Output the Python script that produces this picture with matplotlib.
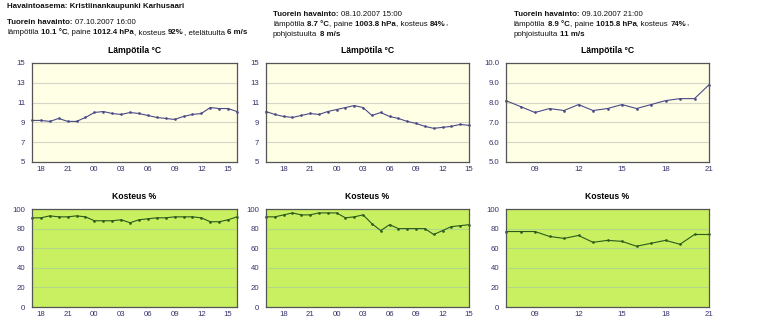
import matplotlib
matplotlib.use('Agg')
import matplotlib.pyplot as plt
from matplotlib.transforms import IdentityTransform

plt.rcParams['font.family'] = ['Liberation Sans', 'DejaVu Sans']

W, H = 780, 331

# tuntisarjat (kellonaika) ja mittaukset
hours1 = [17, 18, 19, 20, 21, 22, 23, 0, 1, 2, 3, 4, 5, 6, 7, 8, 9, 10, 11, 12, 13, 14, 15, 16]
temp1 = [9.2, 9.2, 9.1, 9.4, 9.1, 9.1, 9.5, 10.0, 10.1, 9.9, 9.8, 10.0, 9.9, 9.7, 9.5, 9.4,
         9.3, 9.6, 9.8, 9.9, 10.5, 10.4, 10.4, 10.1]
hum1 = [91, 91, 93, 92, 92, 93, 92, 88, 88, 88, 89, 86, 89, 90, 91, 91,
        92, 92, 92, 91, 87, 87, 89, 92]

hours2 = [16, 17, 18, 19, 20, 21, 22, 23, 0, 1, 2, 3, 4, 5, 6, 7, 8, 9, 10, 11, 12, 13, 14, 15]
temp2 = [10.1, 9.8, 9.6, 9.5, 9.7, 9.9, 9.8, 10.1, 10.3, 10.5, 10.7, 10.5, 9.7, 10.0, 9.6, 9.4,
         9.1, 8.9, 8.6, 8.4, 8.5, 8.6, 8.8, 8.7]
hum2 = [92, 92, 94, 96, 94, 94, 96, 96, 96, 91, 92, 94, 85, 78, 84, 80,
        80, 80, 80, 74, 78, 82, 83, 84]

hours3 = [7, 8, 9, 10, 11, 12, 13, 14, 15, 16, 17, 18, 19, 20, 21]
temp3 = [8.1, 7.8, 7.5, 7.7, 7.6, 7.9, 7.6, 7.7, 7.9, 7.7, 7.9, 8.1, 8.2, 8.2, 8.9]
hum3 = [77, 77, 77, 72, 70, 73, 66, 68, 67, 62, 65, 68, 64, 74, 74]

temp_ylims = [(5, 15), (5, 15), (5.0, 10.0)]
temp_yticks = [[5, 7, 9, 11, 13, 15], [5, 7, 9, 11, 13, 15], [5.0, 6.0, 7.0, 8.0, 9.0, 10.0]]
temp_fmt = ['{:.0f}', '{:.0f}', '{:.1f}']

header1 = 'Havaintoasema: Kristiinankaupunki Karhusaari'
obs = [
    ('07.10.2007 16:00', '10.1 °C', '1012.4 hPa', '92%', 'etelätuulta', '6 m/s'),
    ('08.10.2007 15:00', '8.7 °C', '1003.8 hPa', '84%', 'pohjoistuulta', '8 m/s'),
    ('09.10.2007 21:00', '8.9 °C', '1015.8 hPa', '74%', 'pohjoistuulta', '11 m/s'),
]

TEMP_BG = '#ffffe6'
HUM_BG = '#c8f060'
TEMP_LINE = '#4a4a88'
HUM_LINE = '#2c5a1c'
TICK_COLOR = '#33336b'
FS = 5.7

fig = plt.figure(figsize=(W / 100, H / 100), dpi=100)
renderer = fig.canvas.get_renderer()


def px_axes(x0, y0, x1, y1):
    return fig.add_axes([x0 / W, 1 - y1 / H, (x1 - x0) / W, (y1 - y0) / H])


def text_width(s, size, bold=False):
    t = fig.text(0, 0, s, fontsize=size, fontweight='bold' if bold else 'normal')
    w = t.get_window_extent(renderer).width
    t.remove()
    return w


def rich_line(x, y, parts, size=FS):
    """Kirjoittaa rivin, jossa osa paloista on lihavoitu (pikselikoordinaatit ylhäältä)."""
    space = text_width('x x', size) - text_width('xx', size)
    cx = x
    for s, bold, gap in parts:
        fig.text(cx, H - y, s, transform=IdentityTransform(), fontsize=size,
                 fontweight='bold' if bold else 'normal', va='center', ha='left',
                 color='#111111')
        # leveys ilman reunustusta: mitataan kahden merkkijonon erotuksena
        w = text_width('x' + s + 'x', size, bold) - text_width('xx', size, bold)
        cx += w + (space if gap else 0)


def style_axes(ax, bg, grid_color):
    ax.set_facecolor(bg)
    for sp in ax.spines.values():
        sp.set_color('#555555')
        sp.set_linewidth(0.9)
    ax.grid(axis='y', color=grid_color, linewidth=0.8)
    ax.set_axisbelow(True)
    ax.tick_params(length=0, labelsize=5.6, labelcolor=TICK_COLOR, pad=5)
    ax.tick_params(axis='x', pad=3)


def hour_ticks(ax, hours):
    idx = [i for i, h in enumerate(hours) if h % 3 == 0]
    ax.set_xticks(idx)
    ax.set_xticklabels(['%02d' % hours[i] for i in idx])
    ax.set_xlim(0, len(hours) - 1)


cols = [(32, 237), (266, 469), (506, 709)]
hours_all = [hours1, hours2, hours3]
temps = [temp1, temp2, temp3]
hums = [hum1, hum2, hum3]

for k, (x0, x1) in enumerate(cols):
    # lämpötila
    ax = px_axes(x0, 63, x1, 162)
    style_axes(ax, TEMP_BG, '#d6d6c6')
    ax.plot(range(len(hours_all[k])), temps[k], color=TEMP_LINE, lw=0.8,
            marker='o', ms=0.9, clip_on=False)
    ax.set_ylim(*temp_ylims[k])
    ax.set_yticks(temp_yticks[k])
    ax.set_yticklabels([temp_fmt[k].format(v) for v in temp_yticks[k]])
    hour_ticks(ax, hours_all[k])
    ax.set_title('Lämpötila °C', fontsize=6.2, fontweight='bold', pad=7)

    # kosteus
    ax = px_axes(x0, 209, x1, 307)
    style_axes(ax, HUM_BG, '#b4d888')
    ax.plot(range(len(hours_all[k])), hums[k], color=HUM_LINE, lw=0.8,
            marker='o', ms=0.9, clip_on=False)
    ax.set_ylim(0, 100)
    ax.set_yticks([0, 20, 40, 60, 80, 100])
    hour_ticks(ax, hours_all[k])
    ax.set_title('Kosteus %', fontsize=6.2, fontweight='bold', pad=7)

# otsikkotekstit
rich_line(7, 7, [(header1, True, False)])

d, t, p, h, wind_dir, ws = obs[0]
rich_line(7, 23, [('Tuorein havainto:', True, True), (d, False, False)])
rich_line(7, 33, [('lämpötila', False, True), (t, True, False), (', paine', False, True),
                  (p, True, False), (', kosteus', False, True), (h, True, False),
                  (', ' + wind_dir, False, True), (ws, True, False)])

for k, x in [(1, 273), (2, 514)]:
    d, t, p, h, wind_dir, ws = obs[k]
    rich_line(x, 14, [('Tuorein havainto:', True, True), (d, False, False)])
    rich_line(x, 24, [('lämpötila', False, True), (t, True, False), (', paine', False, True),
                      (p, True, False), (', kosteus', False, True), (h, True, False),
                      (',', False, False)])
    rich_line(x, 34, [(wind_dir, False, True), (ws, True, False)])

fig.savefig('out.png', dpi=100, facecolor='white')
